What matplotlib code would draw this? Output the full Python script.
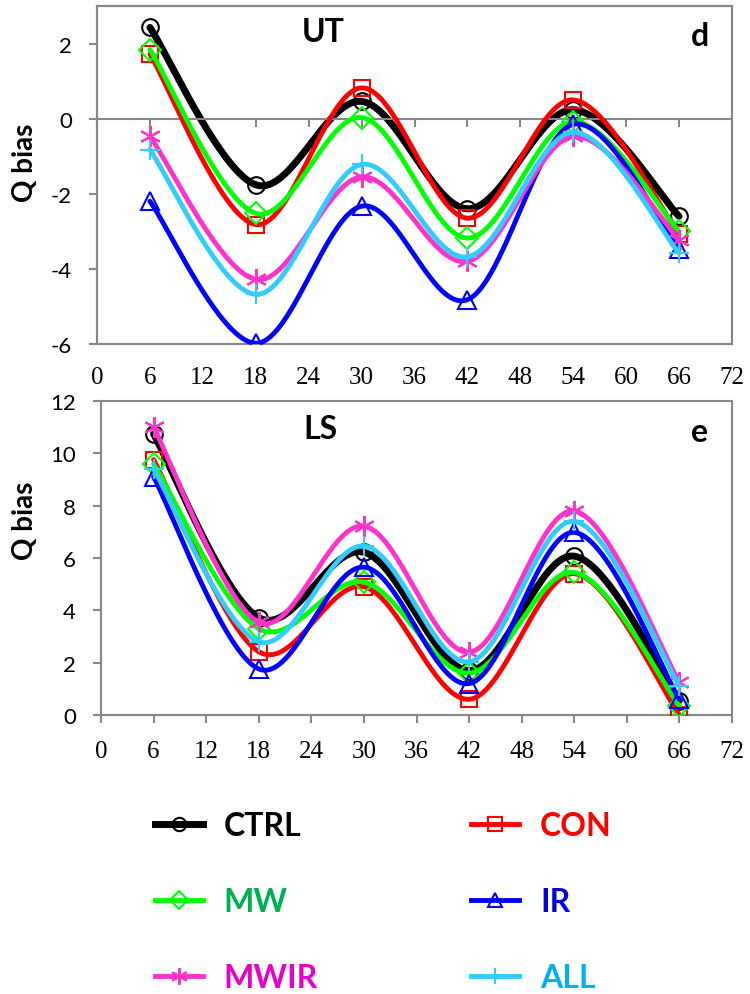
import numpy as np
import matplotlib
matplotlib.use("Agg")
import matplotlib.pyplot as plt
from matplotlib.lines import Line2D
from matplotlib.patches import Rectangle

plt.rcParams['font.family'] = ['Lato', 'DejaVu Sans']
plt.rcParams['axes.unicode_minus'] = False

# forecast hour
hours = [6, 18, 30, 42, 54, 66]
names = ['CTRL', 'CON', 'MW', 'IR', 'MWIR', 'ALL']

# UT panel (d)
ut_ctrl = [2.43, -1.76, 0.46, -2.4, 0.24, -2.6]
ut_con = [1.72, -2.82, 0.82, -2.65, 0.5, -3.08]
ut_mw = [1.84, -2.52, 0.03, -3.18, -0.08, -3.0]
ut_ir = [-2.2, -5.98, -2.33, -4.82, -0.15, -3.48]
ut_mwir = [-0.47, -4.28, -1.55, -3.8, -0.47, -3.22]
ut_all = [-0.83, -4.68, -1.22, -3.68, -0.36, -3.58]

# LS panel (e)
ls_ctrl = [10.74, 3.72, 6.22, 1.7, 6.07, 0.55]
ls_con = [9.76, 2.42, 4.9, 0.6, 5.4, 0.0]
ls_mw = [9.6, 3.3, 5.08, 1.6, 5.45, 0.35]
ls_ir = [9.1, 1.76, 5.65, 1.2, 6.98, 0.6]
ls_mwir = [11.0, 3.55, 7.22, 2.4, 7.8, 1.25]
ls_all = [9.4, 2.8, 6.46, 2.03, 7.4, 1.1]

line_colors = ['black', '#ff0000', '#00ff00', '#0000ff', '#ff33cc', '#33ccff']
text_colors = ['black', '#ff0000', '#00b050', '#0000e6', '#e600c8', '#00b0f0']
markers = ['o', 's', 'D', '^', (6, 2, 0), '+']
msizes = [12, 12, 11, 13, 15, 15]
lwidths = [5, 3.5, 3.5, 3.5, 3.5, 3.5]
gray = '#878787'


def smooth(x, y, n=40):
    # Excel-like smoothed line (Catmull-Rom through the points)
    p = np.column_stack([x, y]).astype(float)
    p = np.vstack([p[0], p, p[-1]])
    t = np.linspace(0, 1, n)[:, None]
    out = []
    for i in range(1, len(p) - 2):
        p0, p1, p2, p3 = p[i - 1], p[i], p[i + 1], p[i + 2]
        c1 = p1 + (p2 - p0) / 6
        c2 = p2 - (p3 - p1) / 6
        seg = ((1 - t) ** 3) * p1 + 3 * ((1 - t) ** 2) * t * c1 + 3 * (1 - t) * t ** 2 * c2 + t ** 3 * p2
        out.append(seg)
    out = np.vstack(out)
    return out[:, 0], out[:, 1]


fig = plt.figure(figsize=(7.5, 9.95), dpi=100)
ax1 = fig.add_axes([97 / 750, 1 - 345 / 995, 635 / 750, 338 / 995])
ax2 = fig.add_axes([101 / 750, 1 - 716 / 995, 631 / 750, 314 / 995])

panels = [(ax1, [ut_ctrl, ut_con, ut_mw, ut_ir, ut_mwir, ut_all]),
          (ax2, [ls_ctrl, ls_con, ls_mw, ls_ir, ls_mwir, ls_all])]

for ax, series in panels:
    for i, vals in enumerate(series):
        sx, sy = smooth(hours, vals)
        ax.plot(sx, sy, color=line_colors[i], lw=lwidths[i], solid_capstyle='round', zorder=2 + i)
        ax.plot(hours, vals, ls='none', marker=markers[i], ms=msizes[i], mfc='none',
                mec=line_colors[i], mew=1.5, zorder=2 + i)
    ax.set_xlim(0, 72)
    ax.set_xticks(range(0, 73, 6))
    for s in ax.spines.values():
        s.set_color(gray)
        s.set_linewidth(1.5)
    ax.tick_params(axis='y', direction='out', length=6, width=1.5, color=gray,
                   labelsize=16, pad=12)
    ax.tick_params(axis='x', direction='out', length=6, width=1.5, color=gray)

# top panel: x axis crosses at zero, labels stay at the bottom
ax1.set_ylim(-6, 3)
ax1.set_yticks([-6, -4, -2, 0, 2])
ax1.spines['bottom'].set_position(('data', 0))
ax1.tick_params(axis='x', labelbottom=False)
ax1.add_patch(Rectangle((0, 0), 1, 1, transform=ax1.transAxes, fill=False,
                        edgecolor=gray, lw=1.5, clip_on=False, zorder=1))
sec = ax1.secondary_xaxis(0)
sec.set_xticks(range(0, 73, 6))
sec.spines['bottom'].set_visible(False)
sec.tick_params(length=0, pad=16, labelsize=18)
for lab in sec.get_xticklabels():
    lab.set_fontfamily('Liberation Serif')

ax2.set_ylim(0, 12)
ax2.set_yticks(range(0, 13, 2))
ax2.tick_params(axis='x', labelsize=18, pad=12)
for lab in ax2.get_xticklabels():
    lab.set_fontfamily('Liberation Serif')

fig.text(323 / 750, 1 - 33 / 995, 'UT', fontsize=23, fontweight='bold', ha='center', va='center')
fig.text(700 / 750, 1 - 37 / 995, 'd', fontsize=23, fontweight='bold', ha='center', va='center')
fig.text(320 / 750, 1 - 430 / 995, 'LS', fontsize=23, fontweight='bold', ha='center', va='center')
fig.text(700 / 750, 1 - 433 / 995, 'e', fontsize=23, fontweight='bold', ha='center', va='center')
fig.text(25 / 750, 1 - 163 / 995, 'Q bias', fontsize=20, fontweight='bold', rotation=90,
         ha='center', va='center')
fig.text(25 / 750, 1 - 521 / 995, 'Q bias', fontsize=20, fontweight='bold', rotation=90,
         ha='center', va='center')

handles = [Line2D([], [], color=line_colors[i], lw=lwidths[i], marker=markers[i], ms=msizes[i] * 0.8,
                  mfc='none', mec=line_colors[i], mew=1.5) for i in range(6)]
order = [0, 2, 4, 1, 3, 5]
leg = fig.legend([handles[i] for i in order], [names[i] for i in order], ncol=2,
                 loc='upper left', bbox_to_anchor=(155 / 750, 1 - 812 / 995),
                 frameon=False, borderpad=0, borderaxespad=0, handlelength=1.5,
                 handletextpad=0.65, columnspacing=4.8, labelspacing=1.47,
                 prop={'size': 23, 'weight': 'bold'})
for txt, i in zip(leg.get_texts(), order):
    txt.set_color(text_colors[i])

fig.savefig('out.png', dpi=100)
